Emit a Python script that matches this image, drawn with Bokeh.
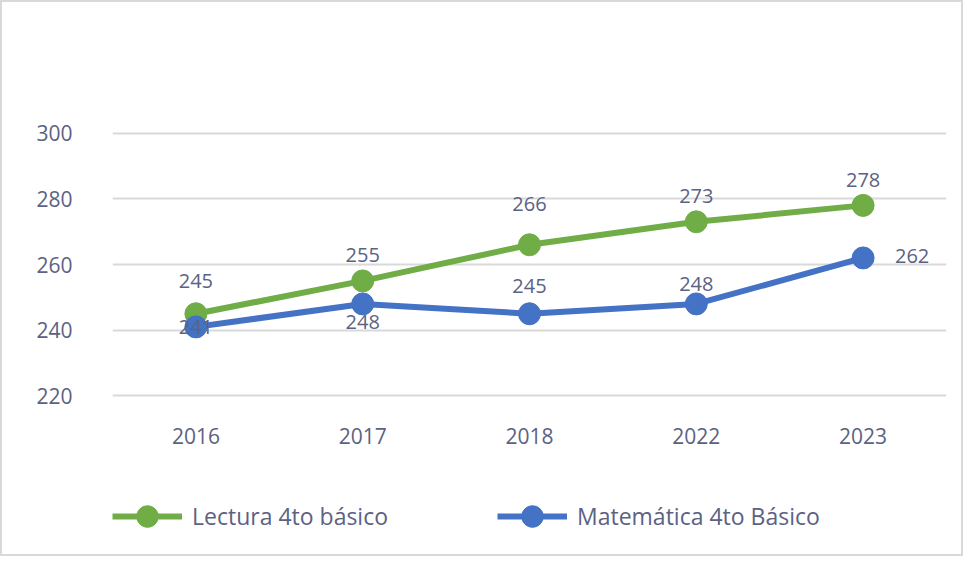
from bokeh.plotting import figure
from bokeh.models import ColumnDataSource, Legend, LegendItem, FactorRange, Range1d
from bokeh.layouts import column
from bokeh.core.properties import value
from bokeh.embed import file_html
from bokeh.resources import INLINE

years = ["2016", "2017", "2018", "2022", "2023"]
lectura = [245, 255, 266, 273, 278]
matematica = [241, 248, 245, 248, 262]
y_ticks = [220, 240, 260, 280, 300]
series_names = ["Lectura 4to básico", "Matemática 4to Básico"]

GREEN = "#70ad47"
BLUE = "#4472c4"
TEXT = "#5b6283"
FONT = "Open Sans"

# label placement (style only, screen px; positive dy = upwards)
lect_dx = [0, 0, 0, 0, 0]
lect_dy = [33, 26, 41, 26, 25]
mat_dx = [0, 0, 0, 0, 49]
mat_dy = [0, -18, 28, 20, 2]

W = 959
p = figure(width=W, height=462, x_range=FactorRange(*years), y_range=(219.5, 300.5),
           output_backend="svg", toolbar_location=None,
           min_border_left=110, min_border_right=15, min_border_top=129,
           min_border_bottom=67)
p.outline_line_color = None
p.background_fill_color = "white"
p.border_fill_color = "white"

for ax in (p.xaxis, p.yaxis):
    ax.axis_line_color = None
    ax.major_tick_line_color = None
    ax.minor_tick_line_color = None
    ax.major_tick_out = 0
    ax.major_tick_in = 0
    ax.major_label_text_font = FONT
    ax.major_label_text_font_size = "21px"
    ax.major_label_text_color = TEXT
p.yaxis.ticker = y_ticks
p.yaxis.major_label_standoff = 40
p.xaxis.major_label_standoff = 30
p.xgrid.grid_line_color = None
p.ygrid.grid_line_color = "#d9d9d9"
p.ygrid.grid_line_width = 2

src_l = ColumnDataSource(dict(x=years, y=lectura, lab=[str(v) for v in lectura],
                              dx=lect_dx, dy=[-d for d in lect_dy]))
src_m = ColumnDataSource(dict(x=years, y=matematica, lab=[str(v) for v in matematica],
                              dx=mat_dx, dy=[-d for d in mat_dy]))

p.line("x", "y", source=src_l, line_color=GREEN, line_width=6)
p.scatter("x", "y", source=src_l, size=22, fill_color=GREEN, line_color=GREEN)
p.line("x", "y", source=src_m, line_color=BLUE, line_width=6)
p.scatter("x", "y", source=src_m, size=22, fill_color=BLUE, line_color=BLUE)

for src in (src_l, src_m):
    p.text("x", "y", text="lab", source=src, x_offset="dx", y_offset="dy",
           text_align="center", text_baseline="middle", text_font=value(FONT),
           text_font_size="20px", text_color=TEXT)

# legend strip below the chart (same series, drawn outside its visible range)
lg = figure(width=W, height=90, x_range=FactorRange(*years), y_range=Range1d(0, 1),
            output_backend="svg", toolbar_location=None,
            x_axis_location=None, y_axis_location=None,
            min_border_left=110, min_border_right=15,
            min_border_top=0, min_border_bottom=0)
lg.outline_line_color = None
lg.xgrid.grid_line_color = None
lg.ygrid.grid_line_color = None
g1 = lg.line("x", "y", source=src_l, line_color=GREEN, line_width=6)
g1s = lg.scatter("x", "y", source=src_l, fill_color=GREEN, line_color=GREEN)
g2 = lg.line("x", "y", source=src_m, line_color=BLUE, line_width=6)
g2s = lg.scatter("x", "y", source=src_m, fill_color=BLUE, line_color=BLUE)

legend = Legend(items=[LegendItem(label=series_names[0], renderers=[g1, g1s]),
                       LegendItem(label=series_names[1], renderers=[g2, g2s])],
                orientation="horizontal", location=(0, 11), margin=0, padding=3,
                glyph_width=70, glyph_height=54, label_width=212,
                label_standoff=10, label_text_font=FONT,
                label_text_font_size="23px", label_text_color=TEXT,
                spacing=93, border_line_color=None, background_fill_alpha=0)
lg.add_layout(legend, "center")

layout = column(p, lg, spacing=0, styles={"border": "2px solid #d9d9d9"})

open("out.html", "w").write(file_html(layout, INLINE))
